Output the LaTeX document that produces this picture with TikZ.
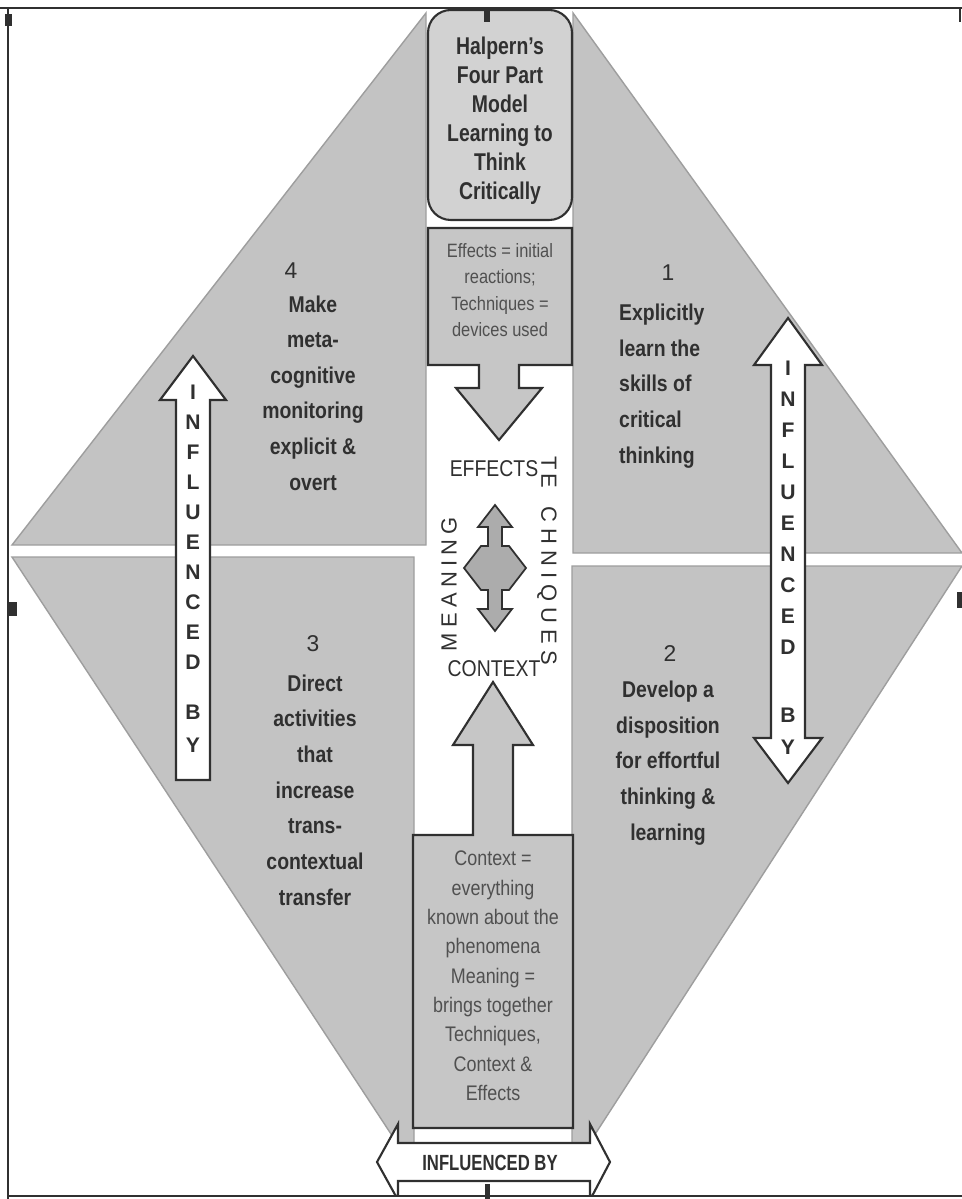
\documentclass[tikz,border=0pt]{standalone}
\usepackage{fontspec}
\setmainfont{Liberation Sans}
\newfontfamily\narrowsans[FakeStretch=0.85]{Liberation Sans}
\newfontfamily\titlesans[FakeStretch=0.8]{Liberation Sans}
\newfontfamily\bannersans[FakeStretch=0.76]{Liberation Sans}
\definecolor{quadgrey}{RGB}{195,195,195}
\definecolor{quadedge}{RGB}{158,158,158}
\definecolor{panelgrey}{RGB}{198,198,198}
\definecolor{titlegrey}{RGB}{210,210,210}
\definecolor{crossgrey}{RGB}{172,172,172}
\definecolor{ink}{RGB}{48,48,48}
\definecolor{notegrey}{RGB}{80,80,80}
\begin{document}
\begin{tikzpicture}[x=0.02cm, y=-0.02cm,
  quadrant/.style={fill=quadgrey, draw=quadedge, line width=0.8pt, line join=miter},
  panel/.style={fill=panelgrey, draw=ink, line width=1.2pt, line join=miter},
  hollow/.style={fill=white, draw=ink, line width=1.2pt, line join=miter},
  crossarrow/.style={fill=crossgrey, draw=ink, line width=1pt, line join=miter},
  titletext/.style={font=\titlesans\bfseries\fontsize{13.8}{16.5}\selectfont, text=ink, align=center},
  bodytext/.style={font=\narrowsans\bfseries\fontsize{13}{20.3}\selectfont, text=ink, align=center},
  numlabel/.style={font=\fontsize{13}{15}\selectfont, text=ink, inner sep=0pt},
  note/.style={font=\narrowsans\fontsize{11}{15.1}\selectfont, text=notegrey, align=center},
  ctxnote/.style={font=\narrowsans\fontsize{12}{16.7}\selectfont, text=notegrey, align=center},
  vletter/.style={font=\bfseries\fontsize{12}{13}\selectfont, text=ink, inner sep=0pt},
  caplabel/.style={font=\narrowsans\fontsize{13}{14}\selectfont, text=ink, inner sep=0pt},
  spacedlabel/.style={font=\fontsize{12.5}{14}\selectfont, text=ink, inner sep=0pt},
  handle/.style={fill=ink, draw=none}]

\useasboundingbox (0,0) rectangle (962,1199);
\fill[white] (0,0) rectangle (962,1199);

% the four quarters of the diamond
\begin{scope}
  \clip (8,8) rectangle (962,1196);
  \draw[quadrant] (12,545) -- (426,13) -- (426,545) -- cycle;
  \draw[quadrant] (573,13) -- (962,553) -- (573,553) -- cycle;
  \draw[quadrant] (12,557) -- (414,557) -- (414,1169) -- cycle;
  \draw[quadrant] (572,566) -- (962,566) -- (572,1170) -- cycle;
\end{scope}

% title box
\draw[fill=titlegrey, draw=ink, line width=1.2pt, rounded corners=13pt]
  (428,10) rectangle (572,220);
\node[titletext] (title) at (500,121)
  {Halpern’s\\Four Part\\Model\\Learning to\\Think\\Critically};

% effects callout with its downward arrow
\draw[panel] (428,228) -- (572,228) -- (572,365) -- (519,365) -- (519,388)
  -- (542,388) -- (499,440) -- (456,388) -- (479,388) -- (479,365)
  -- (428,365) -- cycle;
\node[note] (effnote) at (500,290)
  {Effects = initial\\reactions;\\Techniques =\\devices used};

% context callout with its upward arrow
\draw[panel] (413,835) -- (473,835) -- (473,745) -- (453,745) -- (493,682)
  -- (533,745) -- (513,745) -- (513,835) -- (573,835) -- (573,1128)
  -- (413,1128) -- cycle;
\node[ctxnote] (ctxnote) at (493,976)
  {Context =\\everything\\known about the\\phenomena\\Meaning =\\brings together\\Techniques,\\Context \&\\Effects};

% four-way arrow in the centre
\draw[crossarrow, shift={(495,568)}]
  (0,-63) -- (17,-41) -- (7,-41) -- (7,-22) -- (14,-22) -- (31,0)
  -- (14,22) -- (7,22) -- (7,41) -- (17,41) -- (0,63) -- (-17,41)
  -- (-7,41) -- (-7,22) -- (-14,22) -- (-31,0) -- (-14,-22) -- (-7,-22)
  -- (-7,-41) -- (-17,-41) -- cycle;

\node[caplabel] (effects) at (494,469) {EFFECTS};
\node[caplabel] (context) at (494,669) {CONTEXT};
\node[spacedlabel, rotate=90] (meaning) at (449,584)
  {M\kern3pt E\kern3pt A\kern3pt N\kern3pt I\kern3pt N\kern3pt G};
\node[spacedlabel, rotate=-90] (techniques) at (547,561)
  {T\kern2pt E\kern10pt C\kern3.5pt H\kern3.5pt N\kern3.5pt I\kern3.5pt Q\kern3.5pt U\kern3.5pt E\kern3.5pt S};

% left single arrow
\draw[hollow] (193,356) -- (226,400) -- (210,400) -- (210,780) -- (176,780)
  -- (176,400) -- (160,400) -- cycle;
\foreach \l/\y [count=\i] in {I/392,N/422,F/452,L/482,U/512,E/542,N/572,C/602,E/632,D/662,B/712,Y/745}
  \node[vletter] (left-\i) at (193,\y) {\l};

% right double arrow
\draw[hollow] (788,318) -- (822,365) -- (805,365) -- (805,738) -- (822,738)
  -- (788,783) -- (754,738) -- (771,738) -- (771,365) -- (754,365) -- cycle;
\foreach \l/\y [count=\i] in {I/368,N/399,F/430,L/461,U/492,E/523,N/554,C/585,E/616,D/647,B/715,Y/747}
  \node[vletter] (right-\i) at (788,\y) {\l};

% bottom double arrow
\begin{scope}
  \clip (8,8) rectangle (962,1196);
  \draw[hollow] (377,1162) -- (398,1124) -- (398,1143) -- (590,1143)
    -- (590,1124) -- (610,1162) -- (590,1200) -- (590,1181) -- (398,1181)
    -- (398,1200) -- cycle;
\end{scope}
\node[font=\bannersans\bfseries\fontsize{12.5}{14}\selectfont, text=ink, inner sep=0pt]
  (banner) at (490,1163) {INFLUENCED BY};

% quarter texts
\node[numlabel] (n4) at (291,271) {4};
\node[bodytext] (q4) at (313,393)
  {Make\\meta-\\cognitive\\monitoring\\explicit \&\\overt};
\node[numlabel] (n1) at (668,273) {1};
\node[bodytext, align=left, anchor=west] (q1) at (613,386)
  {Explicitly\\learn the\\skills of\\critical\\thinking};
\node[numlabel] (n3) at (313,644) {3};
\node[bodytext] (q3) at (315,790)
  {Direct\\activities\\that\\increase\\trans-\\contextual\\transfer};
\node[numlabel] (n2) at (670,654) {2};
\node[bodytext] (q2) at (668,763)
  {Develop a\\disposition\\for effortful\\thinking \&\\learning};

% frame and handles
\draw[ink, line width=1.6pt] (0,8) -- (962,8);
\draw[ink, line width=1.2pt] (8,8) -- (8,1199);
\draw[ink, line width=1.2pt] (8,1196) -- (962,1196);
\draw[ink, line width=1.2pt] (960,8) -- (960,22);
\fill[handle] (5,14) rectangle (12,26);
\fill[handle] (484,10) rectangle (490,22);
\fill[handle] (8,602) rectangle (17,616);
\fill[handle] (485,1184) rectangle (490,1199);
\fill[handle] (957,592) rectangle (962,608);
\end{tikzpicture}
\end{document}
